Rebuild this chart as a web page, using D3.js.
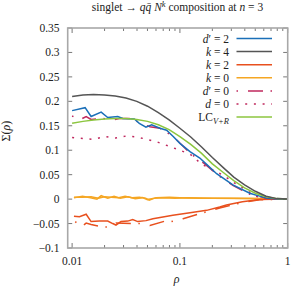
<!DOCTYPE html>
<html><head><meta charset="utf-8">
<script src="https://cdn.jsdelivr.net/npm/d3@7"></script>
<style>body{margin:0;background:#fff}svg{display:block}text{font-family:"Liberation Serif","Times New Roman",serif;fill:#222}</style>
</head><body><div id="c"></div>
<script>
// ---- data ----
const rhoGrid = [0.01,0.0126,0.0158,0.02,0.0251,0.0316,0.0398,0.0501,0.0631,0.0794,0.1,0.126,0.158,0.2,0.251,0.316,0.398,0.501,0.631,0.794,1];
const k4 = [0.210,0.213,0.214,0.213,0.211,0.207,0.200,0.190,0.177,0.162,0.145,0.127,0.107,0.085,0.065,0.045,0.029,0.016,0.006,0.001,0];
const lcVR = [0.155,0.159,0.162,0.164,0.165,0.165,0.163,0.159,0.152,0.142,0.128,0.112,0.094,0.072,0.055,0.038,0.023,0.012,0.005,0.001,0];
const d0 = [0.126,0.124,0.122,0.128,0.125,0.129,0.127,0.122,0.116,0.108,0.100,0.091,0.072,0.060,0.049,0.034,0.021,0.006,0.002,0.0005,0];
const dp2Rho = [0.01,0.0132,0.015,0.0186,0.0214,0.0265,0.0295,0.0378,0.042,0.0484,0.0547,0.0653,0.0753,0.0867,0.1,0.124,0.153,0.177,0.219,0.31,0.445,0.635,0.8,1];
const dp2 = [0.181,0.187,0.169,0.178,0.167,0.169,0.165,0.164,0.155,0.147,0.152,0.145,0.141,0.128,0.114,0.097,0.084,0.071,0.052,0.029,0.012,0.002,0.0003,0];
const dp0Rho = [0.01,0.0117,0.0135,0.015,0.0193,0.0238,0.0274,0.0365,0.042,0.0527,0.0653,0.0867,0.124,0.17,0.225,0.31,0.445,0.635,0.8,1];
const dp0 = [0.170,0.162,0.169,0.163,0.165,0.162,0.165,0.165,0.156,0.148,0.145,0.128,0.094,0.072,0.049,0.028,0.010,0.002,0.0003,0];
const k2Rho = [0.0104,0.0117,0.0135,0.015,0.0179,0.0214,0.0238,0.0255,0.0284,0.0328,0.0365,0.0406,0.0484,0.0562,0.086,0.124,0.177,0.234,0.27,0.38,0.55,1];
const k2 = [-0.035,-0.036,-0.031,-0.046,-0.045,-0.045,-0.050,-0.053,-0.046,-0.045,-0.042,-0.046,-0.044,-0.040,-0.033,-0.028,-0.023,-0.016,-0.012,-0.0055,-0.001,0];
const k2bRho = [0.0107,0.0121,0.0135,0.015,0.0193,0.022,0.0255,0.0365,0.0436,0.0527,0.0725,0.0834,0.107,0.153,0.234,0.38,0.55,1];
const k2b = [-0.046,-0.057,-0.049,-0.052,-0.057,-0.057,-0.049,-0.050,-0.050,-0.054,-0.045,-0.046,-0.040,-0.030,-0.018,-0.007,-0.0015,0];
const k0Rho = [0.0104,0.0125,0.0148,0.017,0.0186,0.0214,0.0245,0.028,0.033,0.0385,0.045,0.05,0.058,0.07,0.09,0.12,0.2,0.4,1];
const k0 = [0.003,0.006,0.003,0.000,0.007,0.002,0.006,0.002,0.005,0.001,0.003,-0.001,0.002,0.003,0.002,0.003,0.002,0.001,0];
const k0bRho = [0.0104,0.0125,0.015,0.0175,0.02,0.023,0.027,0.031,0.036,0.042,0.048,0.052,0.06,0.08,0.1,0.15,0.3,0.6,1];
const k0b = [0.004,0.004,0.005,0.002,0.005,0.004,0.003,0.006,0.003,0.004,0.002,-0.002,0.003,0.004,0.003,0.002,0.002,0.001,0];
const yTicks = [-0.1,-0.05,0,0.05,0.1,0.15,0.2,0.25,0.3,0.35];
const yTickLabels = ["\u22120.1","\u22120.05","0","0.05","0.1","0.15","0.2","0.25","0.3","0.35"];
const xTicks = [0.01,0.1,1];
const xTickLabels = ["0.01","0.1","1"];
const xMinor = [0.02,0.03,0.04,0.05,0.06,0.07,0.08,0.09,0.2,0.3,0.4,0.5,0.6,0.7,0.8,0.9];

// ---- layout ----
const W=291,H=288, L=67.7,R=287.7,T=28,B=248;
const x=d3.scaleLog().domain([0.0091,1]).range([L,R]);
const y=d3.scaleLinear().domain([-0.1,0.35]).range([B,T]);
const svg=d3.select("#c").append("svg").attr("width",W).attr("height",H);
svg.append("defs").append("clipPath").attr("id","cp").append("rect").attr("x",L).attr("y",T).attr("width",R-L).attr("height",B-T);

const DASHDOT="1.5,10,15,7.5", DOT="2,6.7";
const series=[
 {rho:k0bRho,v:k0b,c:"#f5a623",d:null},
 {rho:k0Rho,v:k0,c:"#f5a623",d:null},
 {rho:k2bRho,v:k2b,c:"#e8501e",d:DASHDOT},
 {rho:k2Rho,v:k2,c:"#e8501e",d:null},
 {rho:rhoGrid,v:d0,c:"#c0285e",d:DOT},
 {rho:dp0Rho,v:dp0,c:"#c0285e",d:DASHDOT},
 {rho:dp2Rho,v:dp2,c:"#1a6fb8",d:null},
 {rho:rhoGrid,v:lcVR,c:"#8cc63f",d:null},
 {rho:rhoGrid,v:k4,c:"#555555",d:null},
];
const line=d3.line().x(d=>x(d[0])).y(d=>y(d[1]));
const g=svg.append("g").attr("clip-path","url(#cp)");
series.forEach(s=>{
  g.append("path").attr("d",line(s.rho.map((r,i)=>[r,s.v[i]]))).attr("fill","none")
   .attr("stroke",s.c).attr("stroke-width",1.5).attr("stroke-dasharray",s.d);
});

// axes (inward ticks, mirrored)
const ax=svg.append("g").attr("stroke","#555").attr("stroke-width",0.8);
yTicks.forEach(t=>{ax.append("line").attr("x1",L).attr("x2",L+4.5).attr("y1",y(t)).attr("y2",y(t));
 ax.append("line").attr("x1",R).attr("x2",R-4.5).attr("y1",y(t)).attr("y2",y(t));});
xTicks.forEach(t=>{ax.append("line").attr("x1",x(t)).attr("x2",x(t)).attr("y1",B).attr("y2",B-5);
 ax.append("line").attr("x1",x(t)).attr("x2",x(t)).attr("y1",T).attr("y2",T+5);});
xMinor.forEach(t=>{ax.append("line").attr("x1",x(t)).attr("x2",x(t)).attr("y1",B).attr("y2",B-3);
 ax.append("line").attr("x1",x(t)).attr("x2",x(t)).attr("y1",T).attr("y2",T+3);});
svg.append("rect").attr("x",L).attr("y",T).attr("width",R-L).attr("height",B-T).attr("fill","none").attr("stroke","#a8a8a8").attr("stroke-width",1.6);

yTicks.forEach((t,i)=>svg.append("text").attr("x",59.5).attr("y",y(t)+4).attr("text-anchor","end").attr("font-size",11.5).text(yTickLabels[i]));
xTicks.forEach((t,i)=>svg.append("text").attr("x",x(t)).attr("y",264.5).attr("text-anchor","middle").attr("font-size",11.5).text(xTickLabels[i]));

svg.append("text").attr("x",176.7).attr("y",283).attr("text-anchor","middle").attr("font-size",12).attr("font-style","italic").text("\u03c1");
const yl=svg.append("text").attr("transform","translate(9.5,131) rotate(-90)").attr("text-anchor","middle").attr("font-size",12);
yl.append("tspan").text("\u03a3(");yl.append("tspan").attr("font-style","italic").text("\u03c1");yl.append("tspan").text(")");

// title
const tt=svg.append("text").attr("x",177.5).attr("y",11).attr("text-anchor","middle").attr("font-size",11.5);
tt.append("tspan").text("singlet \u2192 ");
tt.append("tspan").attr("font-style","italic").text("q\u0071\u0304");
tt.append("tspan").text(" ");
tt.append("tspan").attr("font-style","italic").text("N");
tt.append("tspan").attr("font-style","italic").attr("font-size",8.5).attr("dy",-4).text("k");
tt.append("tspan").attr("dy",4).text(" composition at ");
tt.append("tspan").attr("font-style","italic").text("n");
tt.append("tspan").text(" = 3");

// legend
const legNames=[["d","\u2032 = 2"],["k"," = 4"],["k"," = 2"],["k"," = 0"],["d","\u2032 = 0"],["d"," = 0"],["LC","V+R"]];
const legStyles=[series[6],series[8],series[3],series[1],series[5],series[4],series[7]];
legNames.forEach((n,i)=>{
  const cy=38.5+i*13.1;
  const t=svg.append("text").attr("x",229).attr("y",cy+4).attr("text-anchor","end").attr("font-size",11.5);
  if(n[0]==="LC"){t.append("tspan").text("LC");t.append("tspan").attr("font-style","italic").attr("font-size",8.5).attr("dy",2.5).text("V+R");}
  else {t.append("tspan").attr("font-style","italic").text(n[0]);t.append("tspan").text(n[1]);}
  const s=legStyles[i];
  svg.append("line").attr("x1",236.5).attr("x2",272).attr("y1",cy).attr("y2",cy).attr("stroke",s.c).attr("stroke-width",1.5).attr("stroke-dasharray",s.d);
});
</script></body></html>
